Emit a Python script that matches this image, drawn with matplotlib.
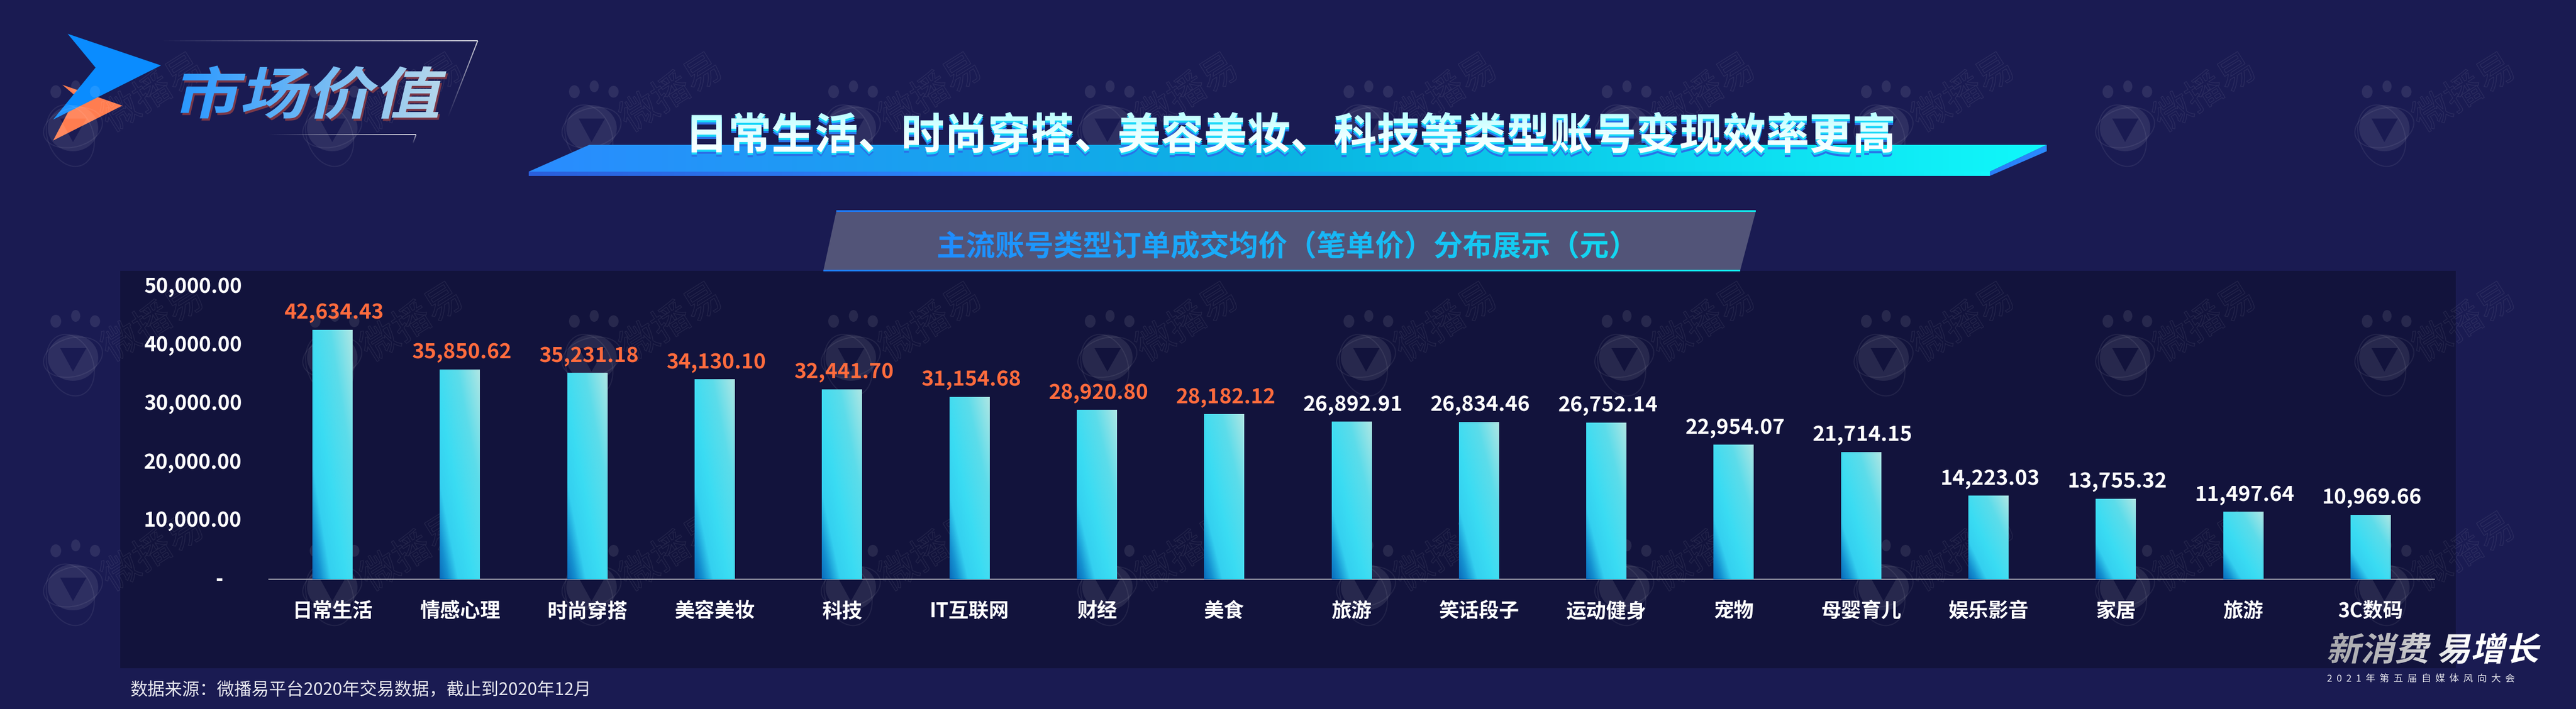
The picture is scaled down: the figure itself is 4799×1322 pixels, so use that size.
import numpy as np
import matplotlib
matplotlib.use('Agg')
import matplotlib.pyplot as plt
from matplotlib.colors import LinearSegmentedColormap, to_rgb
from matplotlib.patches import Polygon, Rectangle, Ellipse
from matplotlib.collections import LineCollection
from matplotlib.patheffects import AbstractPathEffect
from matplotlib.transforms import Affine2D, Bbox

# ---------- data ----------
categories = ['日常生活', '情感心理', '时尚穿搭', '美容美妆', '科技', 'IT互联网', '财经', '美食', '旅游',
              '笑话段子', '运动健身', '宠物', '母婴育儿', '娱乐影音', '家居', '旅游', '3C数码']
values = [42634.43, 35850.62, 35231.18, 34130.10, 32441.70, 31154.68, 28920.80, 28182.12, 26892.91,
          26834.46, 26752.14, 22954.07, 21714.15, 14223.03, 13755.32, 11497.64, 10969.66]
highlight_count = 8
y_ticks = [0, 10000, 20000, 30000, 40000, 50000]
y_tick_labels = ['-    ', '10,000.00', '20,000.00', '30,000.00', '40,000.00', '50,000.00']
section_title = '市场价值'
main_title = '日常生活、时尚穿搭、美容美妆、科技等类型账号变现效率更高'
sub_title = '主流账号类型订单成交均价（笔单价）分布展示（元）'
source_note = '数据来源：微播易平台2020年交易数据，截止到2020年12月'
brand_line = '新消费 易增长'
event_line = '2  0  2  1  年  第  五  届  自  媒  体  风  向  大  会'
watermark = '微播易'

W, H = 4799, 1322
BG, PANEL = '#1a1b52', '#12133c'
FONT = ['Noto Sans CJK SC', 'DejaVu Sans']
plt.rcParams['font.family'] = FONT


class TextFx(AbstractPathEffect):
    """Skew / stretch a text's glyphs, add shadows, fill with a banded gradient."""
    def __init__(self, anchor, stops=None, axis='x', skew=0, xscale=1, shadows=(), band=3):
        super().__init__()
        self.anchor, self.skew, self.xscale = anchor, skew, xscale
        self.shadows, self.axis, self.band = shadows, axis, band
        self.cmap = LinearSegmentedColormap.from_list('t', stops) if stops else None

    def draw_path(self, renderer, gc, tpath, affine, rgbFace=None):
        ax_, ay_ = self.anchor[0], H - self.anchor[1]
        aff = affine + (Affine2D().translate(-ax_, -ay_).skew_deg(self.skew, 0)
                        .scale(self.xscale, 1).translate(ax_, ay_))
        for dx, dy, col in self.shadows:
            g = renderer.new_gc(); g.copy_properties(gc); g.set_linewidth(0)
            renderer.draw_path(g, tpath, aff + Affine2D().translate(dx, -dy), to_rgb(col))
            g.restore()
        if self.cmap is None:
            renderer.draw_path(gc, tpath, aff, rgbFace)
            return
        ext = aff.transform_path(tpath).get_extents()
        x0, y0, x1, y1 = np.floor(ext.x0) - 1, np.floor(ext.y0) - 1, np.ceil(ext.x1) + 1, np.ceil(ext.y1) + 1
        lo, hi = (x0, x1) if self.axis == 'x' else (y1, y0)
        step = self.band if self.axis == 'x' else -self.band
        p = lo
        while (p < hi) if step > 0 else (p > hi):
            t = (p - lo) / (hi - lo)
            q = p + step
            box = (Bbox([[p, y0], [q, y1]]) if self.axis == 'x'
                   else Bbox([[x0, q], [x1, p]]))
            g = renderer.new_gc(); g.copy_properties(gc); g.set_linewidth(0)
            g.set_clip_rectangle(box)
            renderer.draw_path(g, tpath, aff, self.cmap(t)[:3])
            g.restore()
            p = q


class Outline(AbstractPathEffect):
    """Draw a text's glyphs as a thin hollow outline."""
    def __init__(self, rgba, lw):
        super().__init__()
        self.rgba, self.lw = rgba, lw

    def draw_path(self, renderer, gc, tpath, affine, rgbFace=None):
        g = renderer.new_gc(); g.copy_properties(gc)
        g.set_foreground(self.rgba, isRGBA=True)
        g.set_linewidth(self.lw)
        renderer.draw_path(g, tpath, affine, None)
        g.restore()


fig = plt.figure(figsize=(W / 100, H / 100), dpi=100, facecolor=BG)
bg = fig.add_axes([0, 0, 1, 1], zorder=0)
bg.set_xlim(0, W); bg.set_ylim(H, 0); bg.axis('off')


def grad_poly(pts, stops, z=3):
    xs, ys = zip(*pts)
    cm = LinearSegmentedColormap.from_list('g', stops)
    im = bg.imshow(np.linspace(0, 1, 256)[None, :], extent=(min(xs), max(xs), max(ys), min(ys)),
                   cmap=cm, aspect='auto', zorder=z, interpolation='bilinear')
    poly = Polygon(pts, closed=True, transform=bg.transData, facecolor='none', edgecolor='none')
    bg.add_patch(poly)
    im.set_clip_path(poly)
    bg.set_xlim(0, W); bg.set_ylim(H, 0)


def fade_line(p0, p1, c0=0.0, c1=0.85, n=60, lw=1.4, z=2):
    xs = np.linspace(p0[0], p1[0], n + 1); ys = np.linspace(p0[1], p1[1], n + 1)
    segs = [[(xs[i], ys[i]), (xs[i + 1], ys[i + 1])] for i in range(n)]
    al = np.linspace(c0, c1, n)
    bg.add_collection(LineCollection(segs, colors=[(1, 1, 1, a) for a in al], linewidths=lw, zorder=z))


# panel
bg.add_patch(Rectangle((224, 505), 4575 - 224, 1246 - 505, facecolor=PANEL, edgecolor='none', zorder=0.5))

# corner logo
bg.add_patch(Polygon([(116, 158), (228, 197), (99, 262), (142, 180)], facecolor='#ff7d50', edgecolor='none', zorder=1))
bg.add_patch(Polygon([(126, 63), (300, 122), (99, 223), (178, 126)], facecolor='#0a8cff', edgecolor='none', zorder=1.1))

# frame lines
fade_line((295, 76), (890, 76)); fade_line((834, 220), (890, 76))
fade_line((497, 251), (775, 251)); fade_line((769, 268), (775, 251))

# watermarks
wm_x = [136, 619, 1102, 1585, 2063, 2545, 3026, 3509, 3959, 4442]
wm_y = [233, 661, 1089]
WMC = (1, 1, 1, 0.09)
for cx in wm_x:
    for cy in wm_y:
        for dx, dy, rw, rh in [(-32, -62, 20, 24), (5, -72, 17, 22), (41, -62, 19, 22)]:
            bg.add_patch(Ellipse((cx + dx, cy + dy), rw, rh, facecolor=WMC, edgecolor='none', zorder=1.5))
        theta = np.linspace(0, 2 * np.pi, 80)
        outer = np.c_[cx + 47 * np.cos(theta), cy + 6 + 43 * np.sin(theta)]
        bg.add_patch(Polygon(np.r_[outer, [[cx - 24, cy - 12], [cx, cy + 32], [cx + 25, cy - 12], [cx - 24, cy - 12], outer[0]]],
                             closed=True, facecolor=WMC, edgecolor='none', zorder=1.5))
        bg.add_patch(Ellipse((cx - 5, cy + 20), 85, 118, angle=-20, facecolor='none', edgecolor=(1, 1, 1, 0.07), lw=1.5, zorder=1.5))
        bg.add_patch(Ellipse((cx, cy + 5), 112, 72, angle=-15, facecolor='none', edgecolor=(1, 1, 1, 0.07), lw=1.5, zorder=1.5))
        wt = bg.text(cx + 150, cy - 58, watermark, fontsize=50, color='white', rotation=32, ha='center', va='center',
                     rotation_mode='anchor', zorder=1.6, fontweight='normal')
        wt.set_path_effects([Outline((1, 1, 1, 0.075), 1.0)])

# banner
grad_poly([(985, 320), (3707, 320), (3707, 328), (985, 328)], ['#2a5fdc', '#2a8cff', '#0ab4e2', '#12f4fa'], z=3)
grad_poly([(3707, 320), (3813, 270), (3813, 282), (3707, 328)], ['#2a7cf8', '#2a8cff'], z=3)
grad_poly([(1098, 270), (3813, 270), (3707, 320), (985, 320)], ['#2a8cff', '#0ab4e2', '#10f8fa'], z=3)

# sub title box
grad_poly([(1558, 394), (3271, 394), (3242, 504), (1534, 504)], ['#525478', '#525478'], z=3)
grad_poly([(1558, 392), (3271, 392), (3271, 395), (1558, 395)], ['#1f7cff', '#12f0f0'], z=3.1)
grad_poly([(1534, 503), (3242, 503), (3242, 506), (1534, 506)], ['#1f7cff', '#12f0f0'], z=3.1)


def fx_text(x, y, s, size, fx, weight='bold', ha='left', va='baseline', color='white', z=5):
    t = bg.text(x, y, s, fontsize=size, fontweight=weight, ha=ha, va=va, color=color, zorder=z, clip_on=False)
    t.set_path_effects([fx])
    return t


fx_text(320, 212, section_title, 75,
        TextFx((320, 212), ['#2a98ff', '#6fb8f4', '#b8d8ea'], axis='x', skew=11, xscale=1.2,
               shadows=[(3, 4, '#7a3848')]))
fx_text(1276, 278, main_title, 58,
        TextFx((1276, 278), ['#b8ffff', '#e8ffff', '#ffffff'], axis='y',
               shadows=[(0, 8, '#2a72e8'), (0, 4, '#18d8f8')]))
fx_text(1745, 477, sub_title, 39.2,
        TextFx((1745, 477), ['#1f8cff', '#12d8f0'], axis='x'))
fx_text(4334, 1232, brand_line, 44,
        TextFx((4334, 1232), ['#a8a8ac', '#bcbcc0', '#ffffff', '#ffffff'], axis='x', skew=12, xscale=1.04))
bg.text(4335, 1267, event_line, fontsize=13, color='#e8e8ee', ha='left', va='center', zorder=5)
bg.text(243, 1288, source_note, fontsize=23.3, color='#e6e6ee', ha='left', va='center', zorder=5)

# ---------- chart ----------
ax = fig.add_axes([501 / W, (H - 1080) / H, (4535 - 501) / W, (1080 - 535) / H], zorder=1)
ax.patch.set_alpha(0)
x = np.arange(len(categories))
bars = ax.bar(x, values, width=0.316, color='#3adcf3', zorder=2)

u, v = np.meshgrid(np.linspace(0, 1, 80), np.linspace(0, 1, 160))
grad = 0.5 * u + 0.5 * v
bar_cmap = LinearSegmentedColormap.from_list('bar', [(0, '#0a6cbc'), (0.10, '#1590d0'), (0.23, '#34d0f0'),
                                                     (0.42, '#3adcf3'), (0.72, '#5cdcea'), (1, '#aee6e4')])
for b in bars:
    ax.imshow(grad, origin='lower', cmap=bar_cmap, aspect='auto', zorder=3, interpolation='bilinear',
              extent=(b.get_x(), b.get_x() + b.get_width(), 0, b.get_height()))
ax.set_xlim(-0.5, len(categories) - 0.5)
ax.set_ylim(0, 50000)

for i, (xi, val) in enumerate(zip(x, values)):
    ax.annotate(f'{val:,.2f}', (xi, val), xytext=(2, 15.5), textcoords='offset points', ha='center', va='baseline',
                fontsize=28, fontweight='bold', color='#ff6b3d' if i < highlight_count else 'white', zorder=4)

for s in ['top', 'left', 'right']:
    ax.spines[s].set_visible(False)
ax.spines['bottom'].set_color('#a8a8b4')
ax.spines['bottom'].set_linewidth(1.5)
ax.set_xticks(x)
ax.set_xticklabels(categories, fontsize=27, fontweight='bold', color='white')
ax.set_yticks(y_ticks)
ax.set_yticklabels(y_tick_labels, fontsize=27.5, fontweight='bold', color='white', va='center')
ax.tick_params(axis='both', length=0)
ax.tick_params(axis='y', pad=36.5)
ax.tick_params(axis='x', pad=29)

fig.savefig('out.png', dpi=100, facecolor=BG)
